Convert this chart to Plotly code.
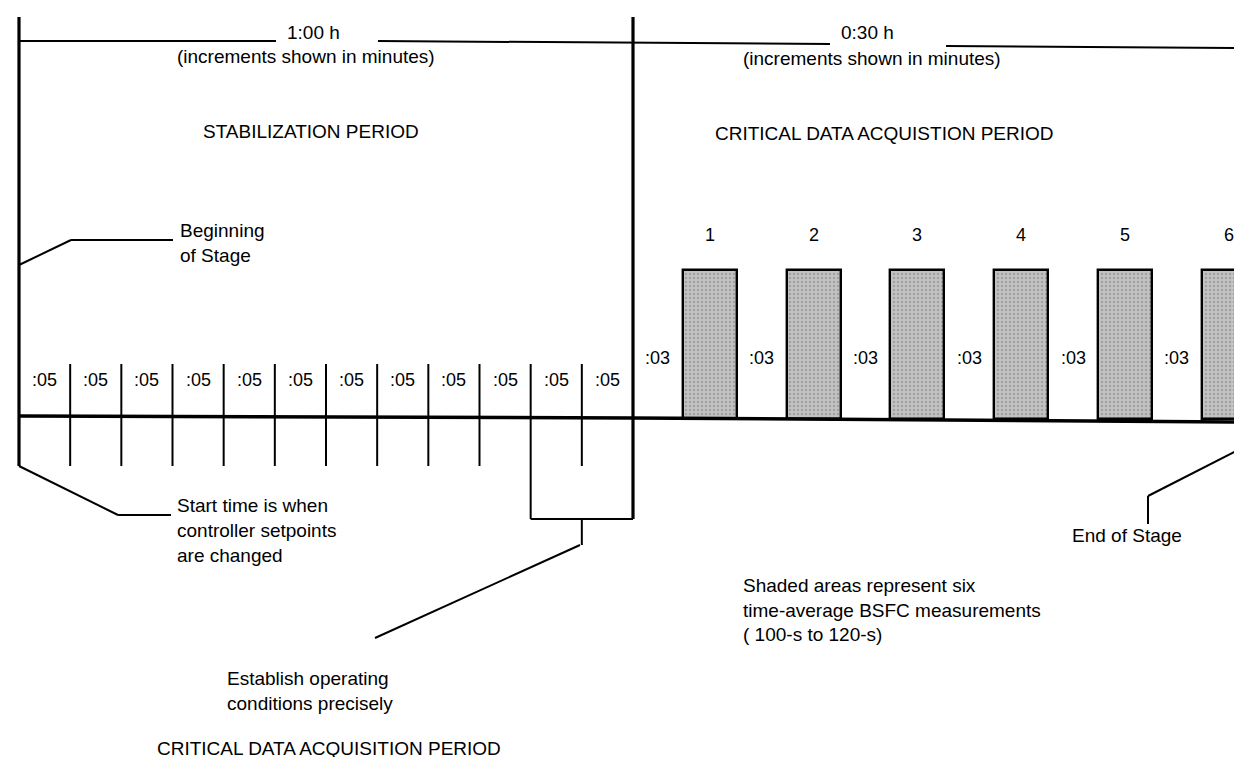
import plotly.graph_objects as go

W, H = 1242, 757

# ---------------- data ----------------
# Stabilization period (1:00 h), minutes
stab_tick_min = [5, 10, 15, 20, 25, 30, 35, 40, 45, 50, 55]
stab_label_min = [2.5, 7.5, 12.5, 17.5, 22.5, 27.5, 32.5, 37.5, 42.5, 47.5, 52.5, 57.5]
stab_labels = [":05", ":05", ":05", ":05", ":05", ":05", ":05", ":05", ":05", ":05", ":05", ":05"]

# Critical data acquisition period (0:30 h), minutes (diagram not to scale)
gap_label_min = [1.2, 6.2, 11.2, 16.2, 21.2, 26.2]
gap_labels = [":03", ":03", ":03", ":03", ":03", ":03"]
bar_start_min = [2.4, 7.4, 12.4, 17.4, 22.4, 27.4]
bar_end_min = [5.0, 10.0, 15.0, 20.0, 25.0, 30.0]
bar_numbers = ["1", "2", "3", "4", "5", "6"]

# ---------------- layout constants (pixels, y downwards) ----------------
FONT = "Liberation Sans, Arial, sans-serif"
FS = 19
BASE_L, BASE_R = 408, 414
BAR_TOP = 262
TICK_TOP, TICK_BOT = 356, 458
BRACKET_BOT = 511

fig = go.Figure()

# shaded measurement bars
centers = [(s + e) / 2 for s, e in zip(bar_start_min, bar_end_min)]
widths = [e - s for s, e in zip(bar_start_min, bar_end_min)]
fig.add_trace(go.Bar(
    x=centers, width=widths, base=[BAR_TOP] * len(centers),
    y=[BASE_L + 3 - BAR_TOP] * len(centers),
    xaxis="x2", yaxis="y",
    marker=dict(color="#b9b9b9", line=dict(color="black", width=2.4),
                pattern=dict(shape=".", fgcolor="#808080", bgcolor="#c2c2c2",
                             size=4, solidity=0.3)),
    hoverinfo="skip", showlegend=False))

# dummy traces so all axes exist
fig.add_trace(go.Scatter(x=[0], y=[0], xaxis="x", yaxis="y", mode="markers",
                         marker=dict(opacity=0), hoverinfo="skip", showlegend=False))
fig.add_trace(go.Scatter(x=[0], y=[0], xaxis="x3", yaxis="y", mode="markers",
                         marker=dict(opacity=0), hoverinfo="skip", showlegend=False))

shapes = []

def pline(x0, y0, x1, y1, w=2.0, ref="x3"):
    shapes.append(dict(type="line", xref=ref, yref="y", x0=x0, y0=y0, x1=x1, y1=y1,
                       line=dict(color="black", width=w)))

# main verticals (stabilization axis in minutes)
pline(0, 9, 0, TICK_BOT, 3.2, "x")
pline(60, 9, 60, BRACKET_BOT, 3.2, "x")
# ticks
for m in stab_tick_min:
    pline(m, TICK_TOP, m, TICK_BOT, 2.0, "x")
# bracket under last two increments
pline(50, TICK_BOT, 50, BRACKET_BOT, 2.0, "x")
pline(50, BRACKET_BOT, 60, BRACKET_BOT, 2.0, "x")
pline(55, BRACKET_BOT, 55, 537, 2.0, "x")
# baseline
pline(11, BASE_L, 625, BASE_L + 2, 3.5)
pline(625, BASE_L + 2, 1242, BASE_R, 3.5)

# top duration line
pline(11, 33, 268, 33, 2.0)
pline(370, 33, 822, 36, 2.0)
pline(938, 38, 1242, 40, 2.0)

# callouts
pline(11, 257, 63, 232, 2.0)
pline(63, 232, 165, 232, 2.0)
pline(11, TICK_BOT, 110, 507, 2.0)
pline(110, 507, 163, 507, 2.0)
pline(572, 537, 367, 630, 2.0)
pline(1242, 436, 1140, 488, 2.0)
pline(1140, 488, 1140, 516, 2.0)
pline(108, 753, 146, 753, 1.2)

annotations = []

def txt(x, y, s, anchor="left", ref="x3", size=FS):
    annotations.append(dict(x=x, y=y, xref=ref, yref="y", text=s, showarrow=False,
                            xanchor=anchor, yanchor="middle",
                            font=dict(family=FONT, size=size, color="black")))

for m, s in zip(stab_label_min, stab_labels):
    txt(m, 372, s, "center", "x", 18)
for m, s in zip(gap_label_min, gap_labels):
    txt(m, 350, s, "center", "x2", 18)
for c, s in zip(centers, bar_numbers):
    txt(c, 227, s, "center", "x2", 18)

txt(305, 24, "1:00 h", "center")
txt(167, 48, "(increments shown in minutes)")
txt(859, 24, "0:30 h", "center")
txt(733, 50, "(increments shown in minutes)")
txt(193, 123, "STABILIZATION PERIOD")
txt(705, 125, "CRITICAL DATA ACQUISTION PERIOD")
txt(170, 222, "Beginning")
txt(170, 247, "of Stage")
txt(167, 497, "Start time is when")
txt(167, 522, "controller setpoints")
txt(167, 547, "are changed")
txt(217, 670, "Establish operating")
txt(217, 695, "conditions precisely")
txt(147, 740, "CRITICAL DATA ACQUISITION PERIOD")
txt(1119, 527, "End of Stage", "center")
txt(733, 577, "Shaded areas represent six")
txt(733, 602, "time-average BSFC measurements")
txt(733, 626, "( 100-s to 120-s)")

# axis ranges: stabilization minutes (0 -> 11 px, 60 -> 625 px); critical minutes (0 -> 625 px)
sx = (625 - 11) / 60.0
cx = 20.76
ax_common = dict(visible=False, fixedrange=True, showgrid=False, zeroline=False)
fig.update_layout(
    width=W, height=H, margin=dict(l=0, r=0, t=0, b=0),
    paper_bgcolor="white", plot_bgcolor="white",
    showlegend=False, bargap=0,
    xaxis=dict(range=[-11 / sx, -11 / sx + W / sx], domain=[0, 1], **ax_common),
    xaxis2=dict(range=[-625 / cx, -625 / cx + W / cx], overlaying="x", domain=[0, 1], **ax_common),
    xaxis3=dict(range=[0, W], overlaying="x", domain=[0, 1], **ax_common),
    yaxis=dict(range=[H, 0], domain=[0, 1], **ax_common),
    shapes=shapes, annotations=annotations,
)

fig.write_html("out.html")
